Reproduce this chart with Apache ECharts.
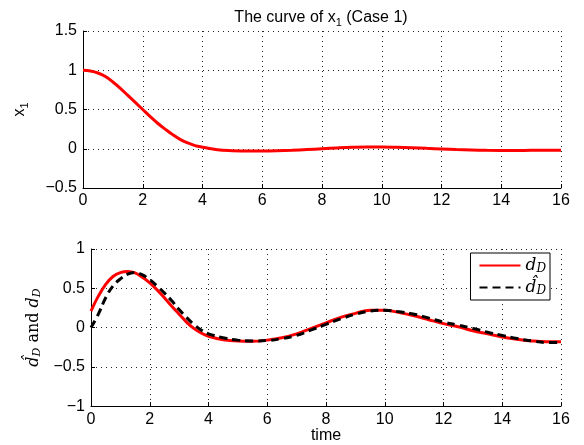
<!DOCTYPE html>
<html>
<head>
<meta charset="utf-8">
<script src="https://cdn.jsdelivr.net/npm/echarts@6/dist/echarts.min.js"></script>
<style>
  html, body { margin: 0; padding: 0; background: #fff; }
  #chart { width: 584px; height: 445px; }
</style>
</head>
<body>
<div id="chart"></div>
<script>
// time samples (finer where the curves bend most)
const time = [0, 0.25, 0.5, 0.75, 1, 1.25, 1.5, 1.75, 2, 2.25, 2.5, 2.75, 3, 3.25, 3.5, 3.75, 4,
  4.5, 5, 5.5, 6, 6.5, 7, 7.5, 8, 8.5, 9, 9.5, 10, 10.5, 11, 11.5, 12, 12.5, 13, 13.5,
  14, 14.5, 15, 15.5, 16];

// x1 state
const x1 = [1.0, 0.99, 0.965, 0.92, 0.85, 0.77, 0.68, 0.59, 0.50, 0.41, 0.325, 0.25, 0.18,
  0.12, 0.075, 0.04, 0.02, -0.013, -0.025, -0.03, -0.03, -0.027, -0.02, -0.01, 0.0,
  0.01, 0.018, 0.022, 0.022, 0.018, 0.012, 0.005, -0.002, -0.01, -0.015, -0.02,
  -0.022, -0.022, -0.02, -0.02, -0.018];

// disturbance d_D and its estimate
const dD = [0.21, 0.40, 0.55, 0.65, 0.70, 0.714, 0.695, 0.64, 0.57, 0.48, 0.38, 0.27, 0.17,
  0.07, -0.01, -0.07, -0.11, -0.155, -0.172, -0.175, -0.16, -0.13, -0.08, -0.01, 0.06,
  0.13, 0.18, 0.22, 0.22, 0.19, 0.15, 0.10, 0.05, 0.01, -0.04, -0.08,
  -0.12, -0.15, -0.17, -0.18, -0.18];
const dHat = [0.0, 0.17, 0.38, 0.53, 0.62, 0.68, 0.70, 0.67, 0.61, 0.53, 0.44, 0.34, 0.23,
  0.13, 0.04, -0.03, -0.08, -0.13, -0.16, -0.17, -0.165, -0.14, -0.10, -0.03, 0.04,
  0.11, 0.17, 0.21, 0.22, 0.20, 0.17, 0.12, 0.07, 0.03, -0.01, -0.06,
  -0.10, -0.14, -0.17, -0.19, -0.19];

const pairs = (ys) => time.map((t, i) => [t, ys[i]]);

const sans = 'Liberation Sans';
const serif = 'DejaVu Serif';

function xAx(gridIndex, name) {
  return {
    type: 'value', gridIndex, min: 0, max: 16, interval: 2,
    name: name || '', nameLocation: 'middle', nameGap: 16,
    nameTextStyle: { fontFamily: sans, fontSize: 16, color: '#000' },
    axisLine: { onZero: false, lineStyle: { color: '#000', width: 1 } },
    axisTick: { inside: true, length: 4, lineStyle: { color: '#000' } },
    axisLabel: { fontFamily: sans, fontSize: 16, color: '#000', margin: 5 },
    splitLine: { show: true, lineStyle: { color: '#222', type: [1, 4], width: 1 } }
  };
}
function yAx(gridIndex, min, max, interval, name, rich, gap) {
  return {
    type: 'value', gridIndex, min, max, interval,
    name, nameLocation: 'middle', nameGap: gap, nameRotate: 90,
    nameTextStyle: { fontFamily: sans, fontSize: 16, color: '#000', rich },
    axisLine: { show: true, onZero: false, lineStyle: { color: '#000', width: 1 } },
    axisTick: { show: true, inside: true, length: 4, lineStyle: { color: '#000' } },
    axisLabel: { fontFamily: sans, fontSize: 16, color: '#000', margin: 6,
      formatter: v => (v < 0 ? '\u2212' + Math.abs(v) : String(v)) },
    splitLine: { show: true, lineStyle: { color: '#222', type: [1, 4], width: 1 } }
  };
}

const chart = echarts.init(document.getElementById('chart'));
chart.setOption({
  animation: false,
  backgroundColor: '#fff',
  title: {
    text: 'The curve of {v|x}{s|1} (Case 1)',
    left: 316, top: 3, textAlign: 'center',
    textStyle: {
      fontFamily: sans, fontSize: 16, fontWeight: 'normal', color: '#000',
      rich: {
        v: { fontFamily: sans, fontSize: 16, color: '#000' },
        s: { fontFamily: sans, fontSize: 11, color: '#000', padding: [9, 0, 0, 0] }
      }
    }
  },
  grid: [
    { left: 83, top: 31, right: 23, height: 157 },
    { left: 91, top: 249, right: 23, height: 158 }
  ],
  legend: {
    right: 34, top: 253,
    orient: 'vertical',
    itemWidth: 41, itemHeight: 16, itemGap: 4,
    padding: [4, 4, 3, 8],
    borderColor: '#000', borderWidth: 1, backgroundColor: '#fff',
    itemStyle: { opacity: 0, borderWidth: 0 },
    data: ['dD', 'dHat'],
    formatter: n => n === 'dD' ? '{i|d}{s|D}' : '{i|d\u0302}{s|D}',
    textStyle: {
      rich: {
        i: { fontFamily: serif, fontStyle: 'italic', fontSize: 17, color: '#000' },
        s: { fontFamily: serif, fontStyle: 'italic', fontSize: 12, color: '#000', padding: [7, 0, 0, 0] }
      }
    }
  },
  xAxis: [xAx(0), xAx(1, 'time')],
  yAxis: [
    yAx(0, -0.5, 1.5, 0.5, '{v|x}{s|1}', {
      v: { fontFamily: sans, fontSize: 16, color: '#000' },
      s: { fontFamily: sans, fontSize: 11, color: '#000', padding: [9, 0, 0, 0] }
    }, 53),
    yAx(1, -1, 1, 0.5, '{i|d\u0302}{s|D}{r| and }{i|d}{s|D}', {
      i: { fontFamily: serif, fontStyle: 'italic', fontSize: 16, color: '#000' },
      r: { fontFamily: serif, fontSize: 16, color: '#000' },
      s: { fontFamily: serif, fontStyle: 'italic', fontSize: 11, color: '#000', padding: [7, 0, 0, 0] }
    }, 42)
  ],
  series: [
    {
      name: 'x1', type: 'line', xAxisIndex: 0, yAxisIndex: 0,
      data: pairs(x1), smooth: 0.4, symbol: 'none',
      lineStyle: { color: '#ff0000', width: 3 }, itemStyle: { color: '#ff0000' }
    },
    {
      name: 'dD', type: 'line', xAxisIndex: 1, yAxisIndex: 1,
      data: pairs(dD), smooth: 0.4, symbol: 'none',
      lineStyle: { color: '#ff0000', width: 3 }, itemStyle: { color: '#ff0000' }
    },
    {
      name: 'dHat', type: 'line', xAxisIndex: 1, yAxisIndex: 1,
      data: pairs(dHat), smooth: 0.4, symbol: 'none',
      lineStyle: { color: '#000', width: 3, type: [8, 5] }, itemStyle: { color: '#000' }
    }
  ]
});
</script>
</body>
</html>
